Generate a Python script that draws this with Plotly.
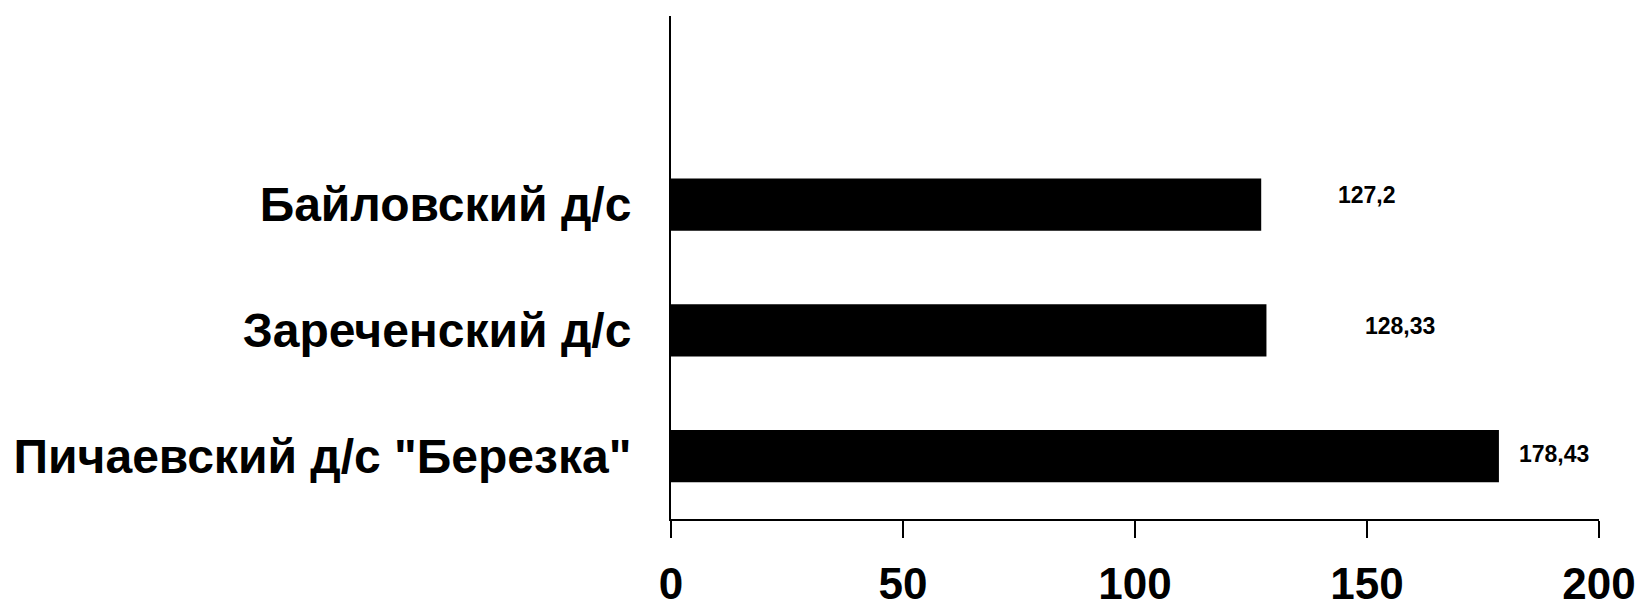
import plotly.graph_objects as go

# Data
categories = ["Пичаевский д/с \"Березка\"", "Зареченский д/с", "Байловский д/с"]
values = [178.43, 128.33, 127.2]
x_ticks = [0, 50, 100, 150, 200]

# Styling (label placement offsets, not data)
label_dx = [11.9, 28.8, 22.8]
label_yshift = [2, 4, 10]

FONT = "Liberation Sans, Arial, sans-serif"

fig = go.Figure()
fig.add_trace(go.Bar(
    y=categories, x=values, orientation="h",
    marker=dict(color="black", line=dict(width=0)),
    width=0.414, hoverinfo="skip", showlegend=False,
))

for c, v, dx, ys in zip(categories, values, label_dx, label_yshift):
    fig.add_annotation(
        x=v + dx, y=c, xref="x", yref="y",
        text=f"{v:g}".replace(".", ","),
        showarrow=False, yshift=ys,
        font=dict(family=FONT, size=23, color="black", weight="bold"),
    )

fig.update_layout(
    template="none",
    width=1641, height=613,
    margin=dict(l=671, r=42, t=16, b=94, pad=0),
    paper_bgcolor="white", plot_bgcolor="white",
    bargap=0.5,
)
fig.update_xaxes(
    automargin=False,
    range=[0, 200], tickvals=x_ticks, ticktext=[str(t) for t in x_ticks],
    showgrid=False, zeroline=False,
    showline=True, linecolor="black", linewidth=1.5,
    ticks="outside", ticklen=17, tickwidth=1.5, tickcolor="black",
    tickfont=dict(family=FONT, size=44, color="black", weight="bold"),
    ticklabelstandoff=8,
)
fig.update_yaxes(
    automargin=False,
    range=[-0.5, 3.5], type="category",
    categoryorder="array", categoryarray=categories,
    showgrid=False, zeroline=False,
    showline=True, linecolor="black", linewidth=2,
    ticks="",
    tickfont=dict(family=FONT, size=48, color="black", weight="bold"),
    ticklabelstandoff=28,
)

fig.write_html(
    "out.html",
    config={"displayModeBar": False},
    post_script="document.body.style.margin='0';document.body.style.overflow='hidden';",
)
